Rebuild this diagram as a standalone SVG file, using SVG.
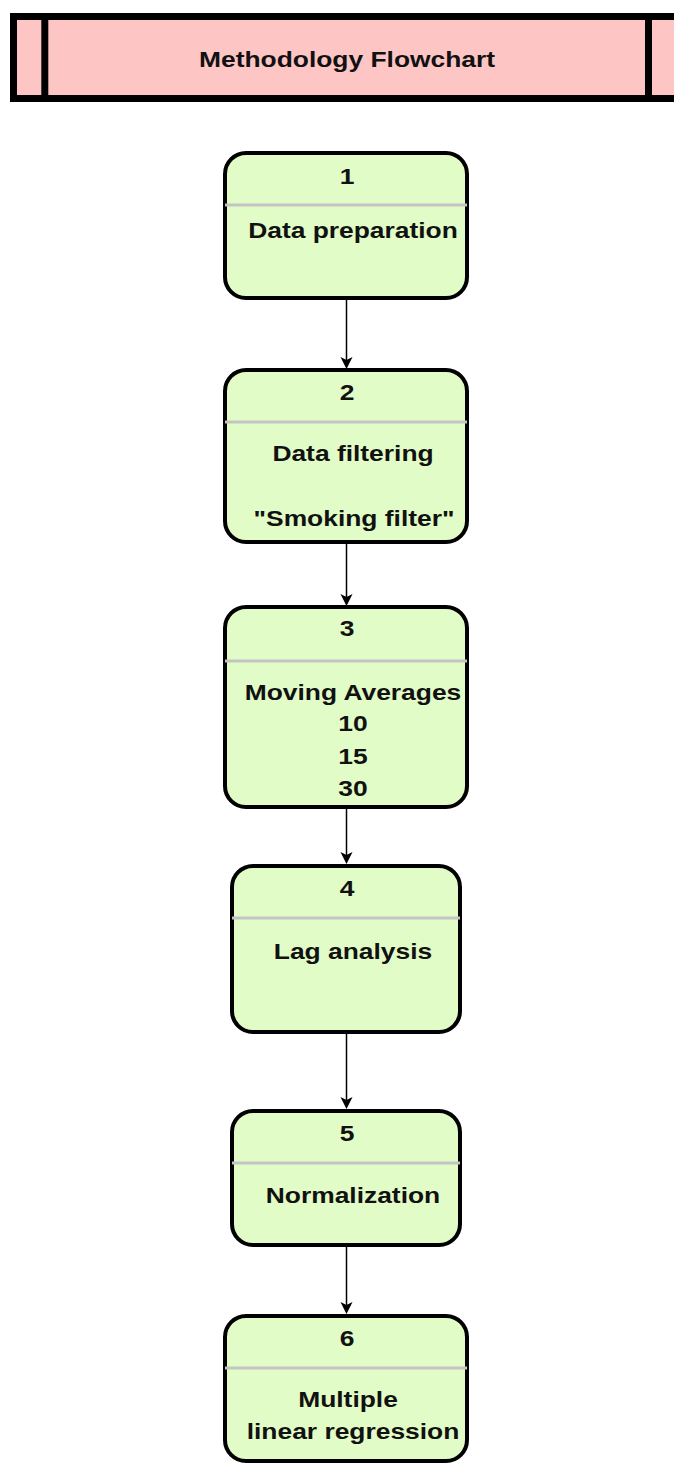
<svg xmlns="http://www.w3.org/2000/svg" width="674" height="1464" viewBox="0 0 674 1464">
  <style>
    .node { fill: #e1fcc6; stroke: #000; stroke-width: 4; }
    .sep { stroke: #c4c4c4; stroke-width: 3; }
    .lbl { font-family: "Liberation Sans", Arial, sans-serif; font-weight: bold; font-size: 22px; fill: #111; text-anchor: middle; }
    .wire { stroke: #000; stroke-width: 1.5; fill: none; }
    .head { fill: #000; }
  </style>
  <rect width="674" height="1464" fill="#fff"/>

  <!-- title band -->
  <g id="header">
    <rect x="13.5" y="16.5" width="700" height="82" fill="#fec5c5" stroke="#000" stroke-width="7"/>
    <line x1="44.8" y1="16.5" x2="44.8" y2="98.5" stroke="#000" stroke-width="7"/>
    <line x1="648.5" y1="16.5" x2="648.5" y2="98.5" stroke="#000" stroke-width="7"/>
    <text class="lbl" transform="matrix(1.2 0 0 1 347 0)" x="0" y="67">Methodology Flowchart</text>
  </g>

  <!-- connectors -->
  <g id="connectors">
    <line class="wire" x1="346.5" y1="298" x2="346.5" y2="360"/>
    <path class="head" d="M346.5,369 L340.5,357 L346.5,360 L352.5,357 Z"/>
    <line class="wire" x1="346.5" y1="543" x2="346.5" y2="597"/>
    <path class="head" d="M346.5,606 L340.5,594 L346.5,597 L352.5,594 Z"/>
    <line class="wire" x1="346.5" y1="808" x2="346.5" y2="855"/>
    <path class="head" d="M346.5,864 L340.5,852 L346.5,855 L352.5,852 Z"/>
    <line class="wire" x1="346.5" y1="1033" x2="346.5" y2="1100"/>
    <path class="head" d="M346.5,1109 L340.5,1097 L346.5,1100 L352.5,1097 Z"/>
    <line class="wire" x1="346.5" y1="1246" x2="346.5" y2="1305"/>
    <path class="head" d="M346.5,1314 L340.5,1302 L346.5,1305 L352.5,1302 Z"/>
  </g>

  <g id="node1">
    <rect class="node" x="225" y="153" width="242" height="145" rx="21"/>
    <line class="sep" x1="225" y1="205" x2="467" y2="205"/>
    <text class="lbl" transform="matrix(1.2 0 0 1 347 0)" x="0" y="184">1</text>
    <text class="lbl" transform="matrix(1.2 0 0 1 353 0)" x="0" y="238">Data preparation</text>
  </g>

  <g id="node2">
    <rect class="node" x="225" y="370" width="242" height="172" rx="21"/>
    <line class="sep" x1="225" y1="422" x2="467" y2="422"/>
    <text class="lbl" transform="matrix(1.2 0 0 1 347 0)" x="0" y="400">2</text>
    <text class="lbl" transform="matrix(1.2 0 0 1 353 0)" x="0" y="461">Data filtering</text>
    <text class="lbl" transform="matrix(1.2 0 0 1 354 0)" x="0" y="526">"Smoking filter"</text>
  </g>

  <g id="node3">
    <rect class="node" x="225" y="607" width="242" height="200" rx="21"/>
    <line class="sep" x1="225" y1="661" x2="467" y2="661"/>
    <text class="lbl" transform="matrix(1.2 0 0 1 347 0)" x="0" y="636">3</text>
    <text class="lbl" transform="matrix(1.2 0 0 1 353 0)" x="0" y="700">Moving Averages</text>
    <text class="lbl" transform="matrix(1.2 0 0 1 353 0)" x="0" y="731">10</text>
    <text class="lbl" transform="matrix(1.2 0 0 1 353 0)" x="0" y="764">15</text>
    <text class="lbl" transform="matrix(1.2 0 0 1 353 0)" x="0" y="796">30</text>
  </g>

  <g id="node4">
    <rect class="node" x="232" y="866" width="228" height="166" rx="21"/>
    <line class="sep" x1="232" y1="918" x2="460" y2="918"/>
    <text class="lbl" transform="matrix(1.2 0 0 1 347 0)" x="0" y="896">4</text>
    <text class="lbl" transform="matrix(1.2 0 0 1 353 0)" x="0" y="959">Lag analysis</text>
  </g>

  <g id="node5">
    <rect class="node" x="232" y="1111" width="228" height="134" rx="21"/>
    <line class="sep" x1="232" y1="1163" x2="460" y2="1163"/>
    <text class="lbl" transform="matrix(1.2 0 0 1 347 0)" x="0" y="1141">5</text>
    <text class="lbl" transform="matrix(1.2 0 0 1 353 0)" x="0" y="1203">Normalization</text>
  </g>

  <g id="node6">
    <rect class="node" x="225" y="1316" width="242" height="145" rx="21"/>
    <line class="sep" x1="225" y1="1368" x2="467" y2="1368"/>
    <text class="lbl" transform="matrix(1.2 0 0 1 347 0)" x="0" y="1346">6</text>
    <text class="lbl" transform="matrix(1.2 0 0 1 348 0)" x="0" y="1407">Multiple</text>
    <text class="lbl" transform="matrix(1.2 0 0 1 353 0)" x="0" y="1439">linear regression</text>
  </g>
</svg>
